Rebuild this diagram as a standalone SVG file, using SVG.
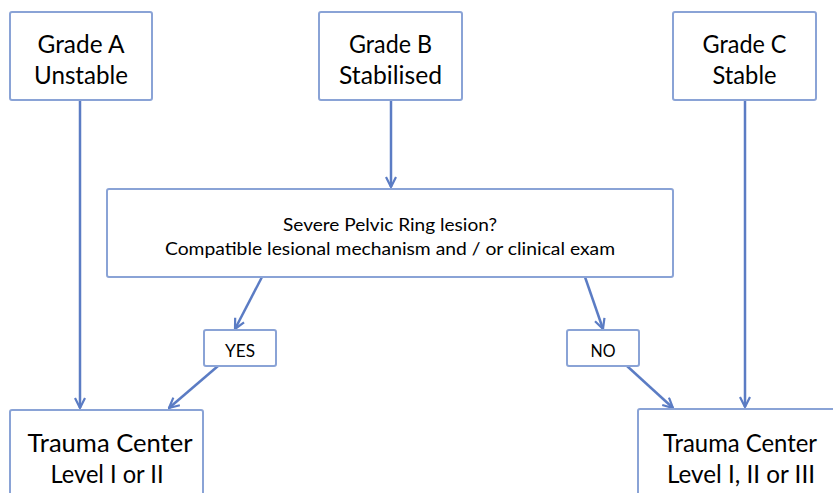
<svg xmlns="http://www.w3.org/2000/svg" width="833" height="493" viewBox="0 0 833 493">
<style>
.box{fill:#ffffff;stroke:#8aa3d6;stroke-width:2}
.t{font-family:Lato,"Open Sans","Liberation Sans",sans-serif;fill:#000000;text-anchor:middle}
.big{font-size:25px}
.mid{font-size:18px}
.sm{font-size:17px}
.c{fill:none;stroke:#5b7cc4;stroke-width:2.5}
</style>
<defs>
<marker id="arr" viewBox="0 0 12 12" refX="11" refY="6" markerWidth="12" markerHeight="12" markerUnits="userSpaceOnUse" orient="auto">
<path d="M1,1 L11,6 L1,11" fill="none" stroke="#5b7cc4" stroke-width="2.2"/>
</marker>
</defs>
<rect width="833" height="493" fill="#ffffff"/>
<g id="connectors">
<line class="c" x1="80" y1="100" x2="80" y2="408" marker-end="url(#arr)"/>
<line class="c" x1="391" y1="100" x2="391" y2="187" marker-end="url(#arr)"/>
<line class="c" x1="745" y1="100" x2="745" y2="407" marker-end="url(#arr)"/>
<line class="c" x1="262" y1="277" x2="235" y2="329" marker-end="url(#arr)"/>
<line class="c" x1="218" y1="366" x2="169" y2="408" marker-end="url(#arr)"/>
<line class="c" x1="585" y1="277" x2="603" y2="329" marker-end="url(#arr)"/>
<line class="c" x1="627" y1="366" x2="673" y2="408" marker-end="url(#arr)"/>
</g>
<g id="gradeA">
<rect class="box" x="10" y="12" width="142" height="88" rx="2"/>
<text class="t big" x="81" y="53" textLength="87" lengthAdjust="spacingAndGlyphs">Grade A</text>
<text class="t big" x="81" y="84" textLength="94" lengthAdjust="spacingAndGlyphs">Unstable</text>
</g>
<g id="gradeB">
<rect class="box" x="319" y="12" width="143" height="88" rx="2"/>
<text class="t big" x="390.5" y="53" textLength="83" lengthAdjust="spacingAndGlyphs">Grade B</text>
<text class="t big" x="390.5" y="84" textLength="103" lengthAdjust="spacingAndGlyphs">Stabilised</text>
</g>
<g id="gradeC">
<rect class="box" x="673" y="12" width="143" height="88" rx="2"/>
<text class="t big" x="744.5" y="53" textLength="84" lengthAdjust="spacingAndGlyphs">Grade C</text>
<text class="t big" x="744.5" y="84" textLength="64" lengthAdjust="spacingAndGlyphs">Stable</text>
</g>
<g id="question">
<rect class="box" x="107" y="189" width="566" height="88" rx="2"/>
<text class="t mid" x="390" y="231" textLength="214" lengthAdjust="spacingAndGlyphs">Severe Pelvic Ring lesion?</text>
<text class="t mid" x="390" y="255" textLength="450" lengthAdjust="spacingAndGlyphs">Compatible lesional mechanism and / or clinical exam</text>
</g>
<g id="yes">
<rect class="box" x="204" y="330" width="72" height="36" rx="2"/>
<text class="t sm" x="240" y="357" textLength="30" lengthAdjust="spacingAndGlyphs">YES</text>
</g>
<g id="no">
<rect class="box" x="567" y="330" width="72" height="36" rx="2"/>
<text class="t sm" x="603" y="357" textLength="25" lengthAdjust="spacingAndGlyphs">NO</text>
</g>
<g id="level12">
<rect class="box" x="10" y="410" width="193" height="100" rx="2"/>
<text class="t big" x="110" y="452" textLength="165" lengthAdjust="spacingAndGlyphs">Trauma Center</text>
<text class="t big" x="107" y="483" textLength="113" lengthAdjust="spacingAndGlyphs">Level I or II</text>
</g>
<g id="level123">
<rect class="box" x="638" y="409" width="210" height="100" rx="2"/>
<text class="t big" x="740" y="452" textLength="154" lengthAdjust="spacingAndGlyphs">Trauma Center</text>
<text class="t big" x="741" y="483" textLength="148" lengthAdjust="spacingAndGlyphs">Level I, II or III</text>
</g>
</svg>
